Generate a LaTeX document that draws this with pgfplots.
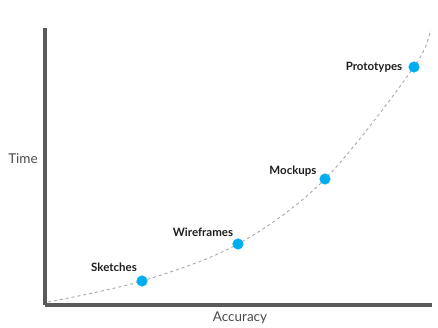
\documentclass[border=0pt]{standalone}
\usepackage{pgfplots}
\pgfplotsset{compat=1.18}
\usepackage{fontspec}
\setmainfont{Lato}
\definecolor{axisgray}{HTML}{5A5A5A}
\definecolor{dotblue}{HTML}{00AEEF}
\definecolor{curvegray}{HTML}{A8A8A8}
\definecolor{labtext}{HTML}{1E1E1E}
\definecolor{axtext}{HTML}{4A4A4A}
\begin{document}
\begin{tikzpicture}[x=1pt,y=1pt]
\useasboundingbox (0,0) rectangle (438,328);
\begin{axis}[
  at={(45pt,23pt)}, anchor=south west,
  scale only axis, width=387pt, height=277pt,
  xmin=0, xmax=387, ymin=0, ymax=277,
  axis lines=left,
  axis line style={-, line width=3.8pt, color=axisgray},
  xtick=\empty, ytick=\empty,
  clip=false,
]
\addplot[curvegray, line width=0.9pt, dash pattern=on 3pt off 3pt, smooth, tension=0.55]
  coordinates {(3,3) (97,24) (193,61) (280,126) (369,238) (385,275)};
\addplot[only marks, mark=*, mark size=5.3pt, mark options={draw=none, fill=dotblue}, color=dotblue]
  coordinates {(97,24) (193,61) (280,126) (369,238)};
\node[font=\fontsize{11.5}{13}\selectfont\bfseries, text=labtext] at (axis cs:69,38) {Sketches};
\node[font=\fontsize{11.5}{13}\selectfont\bfseries, text=labtext] at (axis cs:158,73) {Wireframes};
\node[font=\fontsize{11.5}{13}\selectfont\bfseries, text=labtext] at (axis cs:248,134) {Mockups};
\node[font=\fontsize{11.5}{13}\selectfont\bfseries, text=labtext] at (axis cs:329,238) {Prototypes};
\node[font=\fontsize{13.5}{15}\selectfont, text=axtext] at (axis cs:-22,146) {Time};
\node[font=\fontsize{13.5}{15}\selectfont, text=axtext] at (axis cs:195,-13) {Accuracy};
\end{axis}
\end{tikzpicture}
\end{document}
